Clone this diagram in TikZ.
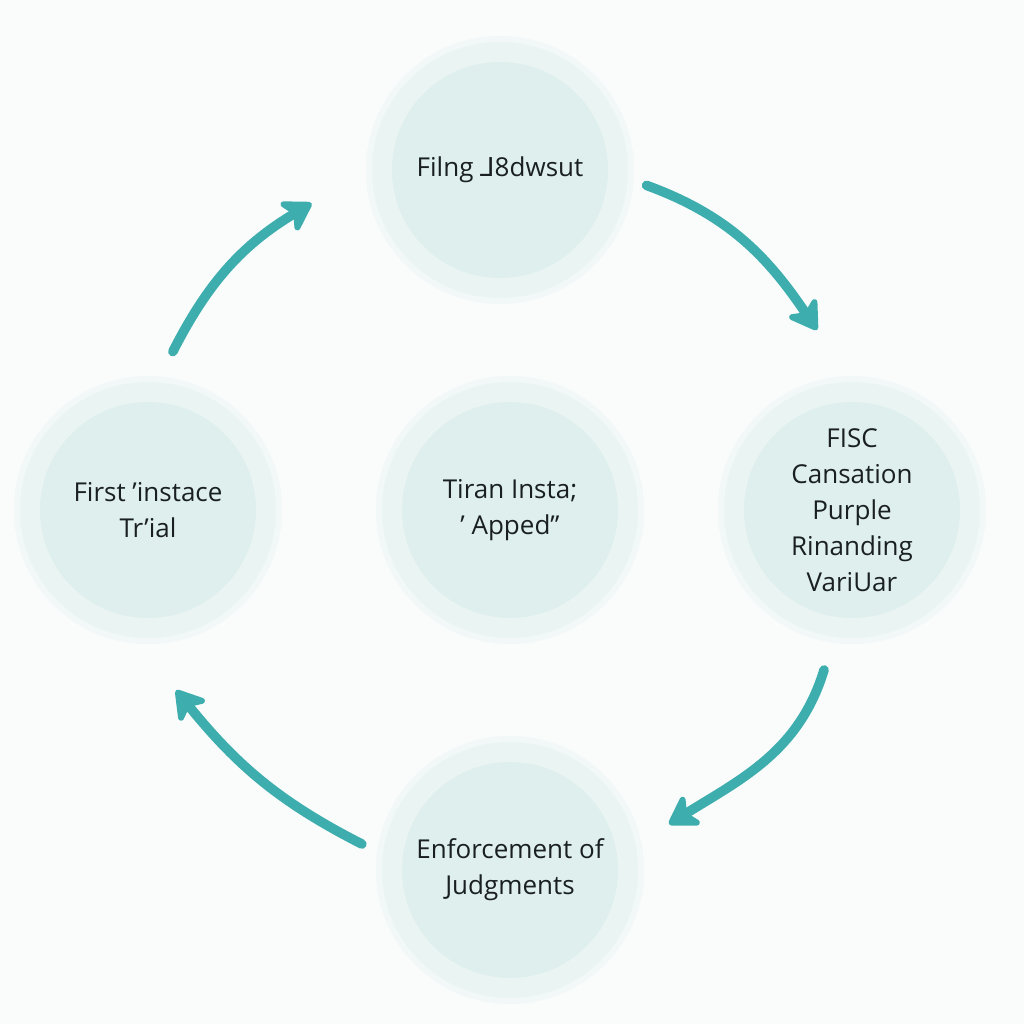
\documentclass[tikz,border=0pt]{standalone}
\usepackage{fontspec}
\setmainfont{Open Sans}
\newfontfamily\dejavu{DejaVu Sans}
\usetikzlibrary{arrows.meta,calc}
\definecolor{bgc}{HTML}{FAFCFC}
\definecolor{haloc}{HTML}{F1F8F7}
\definecolor{ringc}{HTML}{EAF5F3}
\definecolor{innerc}{HTML}{DEEFED}
\definecolor{arrc}{HTML}{3DAEAD}
\definecolor{txtc}{HTML}{1A2022}
\begin{document}
\begin{tikzpicture}[x=0.5pt,y=0.5pt,
  stage/.style={circle, minimum size=128pt, inner sep=0pt, fill=ringc,
    preaction={draw=haloc, line width=6pt},
    path picture={\fill[innerc] (path picture bounding box.center) circle (54pt);},
    font=\fontsize{13}{18}\selectfont, align=center, text=txtc},
  flow/.style={draw=arrc, line width=4.8pt, line cap=round,
    -{Stealth[length=17pt,width=21pt,inset=5pt,round]}}]
\fill[bgc] (0,0) rectangle (1024,-1024);
\useasboundingbox (0,0) rectangle (1024,-1024);

\node[stage] (top) at (500,-170) {Filng {\dejavu ⅃}8dwsut};
\node[stage] (left) at (148,-510) {First ’instace\\Tr’ial};
\node[stage] (mid) at (510,-510) {Tiran Insta;\\’ Apped”};
\node[stage] (right) at (852,-510) {FISC\\Cansation\\Purple\\Rinanding\\VariUar};
\node[stage] (bottom) at (510,-870) {Enforcement of\\Judgments};

\draw[flow] ([shift={(81.4:32)}]left.81.4) to[out=63,in=211] ([shift={(190:63)}]top.190);
\draw[flow] ([shift={(-6:19)}]top.-6) to[out=-20,in=124] ([shift={(101:55)}]right.101);
\draw[flow] ([shift={(260.4:34)}]right.260.4) to[out=253,in=32] ([shift={(16.4:37)}]bottom.16.4);
\draw[flow] ([shift={(170.4:22)}]bottom.170.4) to[out=153,in=309] ([shift={(-81.5:54)}]left.-81.5);
\end{tikzpicture}
\end{document}
